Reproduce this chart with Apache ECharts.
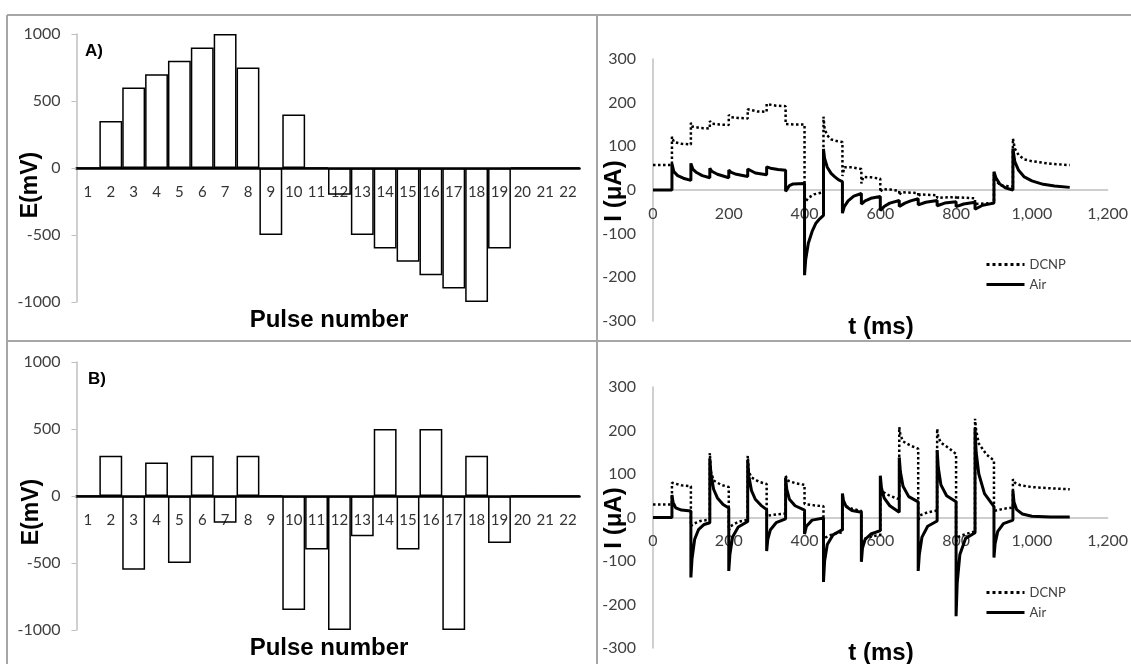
<!DOCTYPE html>
<html>
<head>
<meta charset="UTF-8">
<title>Pulse trains</title>
<style type="text/css">
	html, body { margin: 0; padding: 0; background: #fff; }
	#main { width: 1131px; height: 664px; }
</style>
</head>
<body>
<div id="main"></div>
<script src="https://cdn.jsdelivr.net/npm/echarts@6.0.0/dist/echarts.min.js"></script>
<script type="text/javascript">
// pulse numbers on the category axis
var pulseLabels = ['1', '2', '3', '4', '5', '6', '7', '8', '9', '10', '11',
	'12', '13', '14', '15', '16', '17', '18', '19', '20', '21', '22'];

// E (mV) of each pulse, panel A and panel B
var pulsesA = [0, 350, 600, 700, 800, 900, 1000, 750, -500, 400, 0,
	-200, -500, -600, -700, -800, -900, -1000, -600, 0, 0, 0];
var pulsesB = [0, 300, -550, 250, -500, 300, -200, 300, 0, -850, -400,
	-1000, -300, 500, -400, 500, -1000, 300, -350, 0, 0, 0];

// current traces [t (ms), I (uA)]
var dcnpA = [[0, 57], [50, 57], [50, 122], [55, 110], [75, 106], [100, 104],
	[100, 154], [105, 145], [125, 142], [150, 141],
	[150, 158], [155, 152], [175, 150], [200, 149],
	[200, 172], [205, 167], [225, 165], [250, 164],
	[250, 185], [255, 181], [275, 180], [300, 179],
	[300, 197], [305, 194], [325, 193], [350, 192],
	[350, 151], [375, 150], [400, 150],
	[400, -30], [410, -18], [425, -10], [450, -5],
	[450, 168], [453, 140], [460, 125], [470, 116], [485, 112], [500, 110],
	[500, 32], [505, 52], [525, 52], [550, 48],
	[550, 15], [555, 30], [575, 29], [600, 26],
	[600, -5], [605, 2], [625, 1], [650, -2],
	[650, -12], [655, -5], [700, -7],
	[700, -16], [705, -10], [750, -12],
	[750, -18], [755, -14], [800, -16],
	[800, -22], [805, -17], [850, -19],
	[850, -32], [855, -28], [900, -30],
	[900, 35], [905, 20], [920, 10], [950, 8],
	[950, 118], [955, 95], [965, 80], [980, 70], [1000, 66], [1050, 60], [1100, 57]];

var airA = [[0, 0], [50, 0], [50, 60], [55, 42], [65, 33], [80, 27], [100, 22],
	[100, 61], [105, 48], [115, 40], [130, 33], [150, 28],
	[150, 50], [155, 43], [170, 36], [200, 28],
	[200, 46], [205, 41], [220, 36], [250, 31],
	[250, 48], [255, 44], [270, 39], [300, 35],
	[300, 53], [310, 50], [330, 47], [350, 45],
	[350, -3], [360, 10], [370, 14], [400, 15],
	[400, -195], [403, -160], [410, -122], [420, -95], [430, -76], [440, -66], [450, -58],
	[450, 94], [453, 72], [460, 52], [470, 38], [480, 30], [490, 23], [500, 19],
	[500, -53], [505, -38], [515, -25], [530, -14], [550, -8],
	[550, -32], [560, -25], [575, -19], [600, -15],
	[600, -47], [610, -38], [625, -30], [650, -24],
	[650, -38], [665, -30], [680, -25], [700, -20],
	[700, -34], [720, -28], [750, -24],
	[750, -36], [770, -30], [800, -27],
	[800, -38], [820, -32], [850, -28],
	[850, -44], [870, -35], [900, -30],
	[900, 42], [905, 28], [915, 14], [930, 5], [950, 0],
	[950, 95], [955, 65], [965, 45], [980, 30], [1000, 21], [1030, 13], [1060, 9], [1100, 6]];

var dcnpB = [[0, 30], [50, 30], [50, 80], [55, 76], [75, 74], [100, 72],
	[100, -20], [105, -15], [125, -8], [150, -5],
	[150, 148], [153, 105], [160, 85], [180, 75], [200, 70],
	[200, -30], [205, -20], [225, -10], [250, -5],
	[250, 142], [253, 105], [260, 92], [280, 82], [300, 77],
	[300, 4], [325, 7], [350, 9],
	[350, 96], [355, 85], [375, 79], [400, 75],
	[400, 31], [425, 28], [450, 26],
	[450, -48], [455, -45], [475, -38], [500, -34],
	[500, 30], [505, 27], [525, 20], [550, 15],
	[550, -60], [555, -50], [575, -44], [600, -40],
	[600, 70], [605, 60], [625, 50], [650, 42],
	[650, 208], [653, 190], [660, 175], [680, 165], [700, 158],
	[700, -8], [705, 5], [725, 12], [750, 16],
	[750, 204], [753, 185], [760, 172], [780, 160], [800, 146],
	[800, -55], [805, -45], [825, -38], [850, -32],
	[850, 227], [853, 200], [860, 170], [880, 145], [900, 131],
	[900, 15], [925, 20], [950, 23],
	[950, 88], [955, 80], [970, 74], [1000, 70], [1050, 67], [1100, 65]];

var airB = [[0, 0], [50, 0], [50, 52], [53, 35], [60, 22], [75, 17], [100, 15],
	[100, -138], [103, -95], [110, -50], [120, -28], [135, -16], [150, -12],
	[150, 135], [153, 100], [160, 65], [170, 45], [185, 30], [200, 22],
	[200, -123], [203, -85], [210, -45], [225, -22], [250, -9],
	[250, 132], [253, 95], [260, 62], [270, 42], [285, 28], [300, 18],
	[300, -77], [303, -50], [310, -28], [325, -12], [350, -3],
	[350, 92], [353, 65], [360, 42], [375, 27], [400, 17],
	[400, -38], [405, -20], [420, -6], [450, -1],
	[450, -148], [453, -100], [460, -62], [475, -40], [500, -28],
	[500, 55], [503, 38], [510, 25], [525, 16], [550, 12],
	[550, -102], [553, -70], [560, -50], [575, -38], [600, -30],
	[600, 96], [603, 68], [610, 45], [625, 27], [650, 12],
	[650, 138], [653, 105], [660, 72], [675, 48], [700, 36],
	[700, -123], [703, -85], [710, -45], [725, -20], [750, -8],
	[750, 155], [753, 115], [760, 75], [775, 50], [800, 36],
	[800, -227], [803, -150], [810, -85], [825, -48], [850, -35],
	[850, 205], [853, 150], [860, 100], [875, 55], [900, 25],
	[900, -92], [903, -60], [910, -32], [925, -14], [950, -6],
	[950, 62], [953, 35], [960, 18], [975, 8], [1000, 3], [1050, 1], [1100, 1]];

var tickFont = 'Lato, "Open Sans", sans-serif';
var titleFont = '"Liberation Sans", Arial, sans-serif';
var axisGrey = '#bfbfbf';

var chart = echarts.init(document.getElementById('main'));

// labels sit under the zero line, not under the grid, hence the negative margins
function barX(i) {
	return {
		type: 'category', gridIndex: i, data: pulseLabels,
		axisLine: { onZero: true, lineStyle: { color: '#000', width: 2.5 } },
		axisTick: { show: false },
		axisLabel: { interval: 0, color: '#333', fontSize: 15, fontFamily: tickFont, margin: -117 }
	};
}
function barY(i) {
	return {
		type: 'value', gridIndex: i, min: -1000, max: 1000, interval: 500,
		axisLine: { show: true, lineStyle: { color: axisGrey, width: 1.5 } },
		axisTick: { show: true, length: 5, lineStyle: { color: axisGrey } },
		splitLine: { show: false },
		axisLabel: { color: '#404040', fontSize: 16, fontFamily: tickFont, margin: 16,
			formatter: function (v) { return String(v); } }
	};
}
function timeX(i) {
	return {
		type: 'value', gridIndex: i, min: 0, max: 1200, interval: 200,
		axisLine: { onZero: true, lineStyle: { color: axisGrey, width: 1.5 } },
		axisTick: { show: false },
		splitLine: { show: false },
		axisLabel: {
			color: '#404040', fontSize: 16, fontFamily: tickFont, margin: -115,
			formatter: function (v) { return v >= 1000 ? Math.floor(v / 1000) + ',' + String(v % 1000).padStart(3, '0') : String(v); }
		}
	};
}
function currentY(i) {
	return {
		type: 'value', gridIndex: i, min: -300, max: 300, interval: 100,
		axisLine: { show: true, lineStyle: { color: axisGrey, width: 1.5 } },
		axisTick: { show: false },
		splitLine: { show: false },
		axisLabel: { color: '#404040', fontSize: 16, fontFamily: tickFont, margin: 17 }
	};
}
function barSeries(i, data) {
	return {
		type: 'bar', xAxisIndex: i, yAxisIndex: i, data: data,
		barCategoryGap: '0%', silent: true,
		itemStyle: { color: 'rgba(255,255,255,0)', borderColor: '#000', borderWidth: 1.5 }
	};
}
function traceSeries(i, name, data, dotted) {
	return {
		type: 'line', name: name, xAxisIndex: i, yAxisIndex: i, data: data,
		symbol: 'none', silent: true,
		itemStyle: { color: '#000' },
		lineStyle: { color: '#000', width: dotted ? 2.5 : 3, type: dotted ? 'dotted' : 'solid' }
	};
}
function label(text, x, y, size, rotate) {
	return {
		type: 'text', x: x, y: y, rotation: rotate ? Math.PI / 2 : 0,
		style: {
			text: text, fill: '#000', font: 'bold ' + size + 'px ' + titleFont,
			align: 'center', verticalAlign: 'middle', textAlign: 'center', textVerticalAlign: 'middle'
		}
	};
}
function frameLine(x1, y1, x2, y2) {
	return { type: 'line', shape: { x1: x1, y1: y1, x2: x2, y2: y2 }, style: { stroke: '#a6a6a6', lineWidth: 2 } };
}
function traceLegend(top) {
	return {
		data: ['DCNP', 'Air'], orient: 'vertical', left: 985, top: top, padding: 0,
		itemWidth: 38, itemHeight: 14, itemGap: 7, selectedMode: false,
		itemStyle: { opacity: 0 },
		lineStyle: { width: 3 },
		textStyle: { color: '#404040', fontSize: 13, fontFamily: tickFont }
	};
}

var option = {
	animation: false,
	backgroundColor: '#fff',
	grid: [
		{ left: 76.5, top: 34, width: 503, height: 268 },
		{ left: 653, top: 59, width: 457, height: 262 },
		{ left: 76.5, top: 362, width: 503, height: 268 },
		{ left: 653, top: 387, width: 457, height: 261 }
	],
	xAxis: [barX(0), timeX(1), barX(2), timeX(3)],
	yAxis: [barY(0), currentY(1), barY(2), currentY(3)],
	legend: [traceLegend(258), traceLegend(586)],
	series: [
		barSeries(0, pulsesA),
		traceSeries(1, 'DCNP', dcnpA, true),
		traceSeries(1, 'Air', airA, false),
		barSeries(2, pulsesB),
		traceSeries(3, 'DCNP', dcnpB, true),
		traceSeries(3, 'Air', airB, false)
	],
	graphic: [
		frameLine(7, 15, 1131, 15),
		frameLine(7, 15, 7, 664),
		frameLine(597, 15, 597, 664),
		frameLine(7, 341, 1131, 341),
		label('A)', 94, 51, 17, false),
		label('B)', 97, 379, 17, false),
		label('E(mV)', 31, 185, 23, true),
		label('E(mV)', 32, 512, 23, true),
		label('Pulse number', 329, 320, 24, false),
		label('Pulse number', 329, 648, 24, false),
		label('I (\u03bcA)', 614, 191, 24, true),
		label('I (\u03bcA)', 614, 518, 24, true),
		label('t (ms)', 881, 327, 24, false),
		label('t (ms)', 881, 653, 24, false)
	]
};

chart.setOption(option);
</script>
</body>
</html>
